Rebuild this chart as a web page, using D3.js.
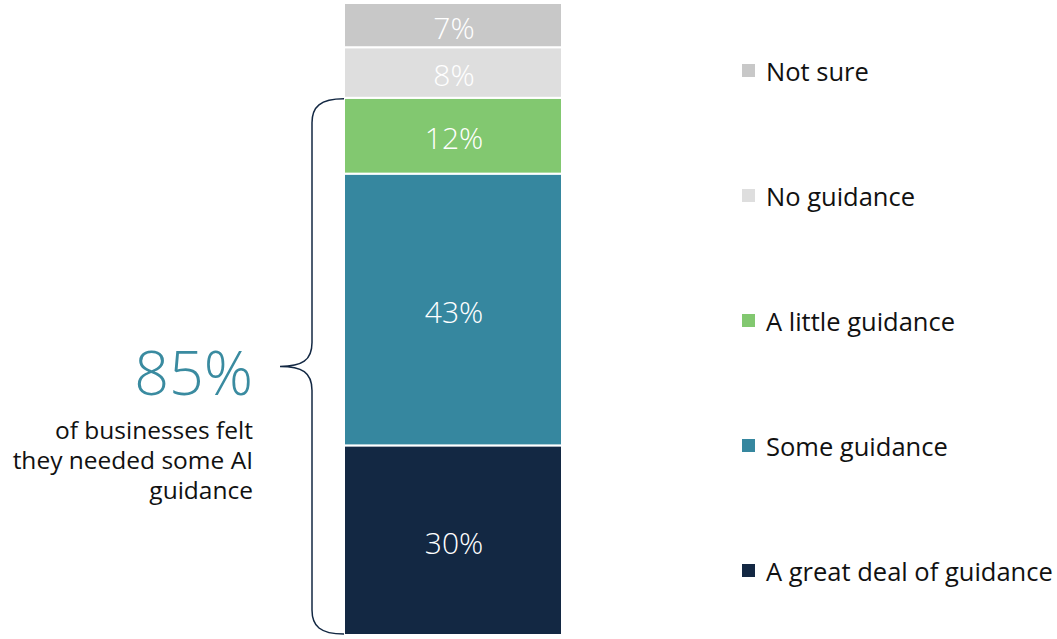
<!DOCTYPE html>
<html><head><meta charset="utf-8">
<script src="https://cdn.jsdelivr.net/npm/d3@7"></script>
<style>body{margin:0;background:#fff;font-family:"Open Sans",sans-serif;}</style>
</head><body>
<svg id="chart" width="1057" height="639"></svg>
<script>
(function(){
const categories = ["A great deal of guidance","Some guidance","A little guidance","No guidance","Not sure"];
const values = [30, 43, 12, 8, 7];
const colors = ["#132843","#36879F","#82C870","#DEDEDE","#C8C8C8"];
const headline = "85%";
const caption = ["of businesses felt","they needed some AI","guidance"];

const svg = d3.select("#chart");
const y = d3.scaleLinear().domain([0,100]).range([635,3]);
const x0 = 344, x1 = 562;

let cum = 0;
const segs = values.map((v,i)=>{const s={cat:categories[i],v,lo:cum,hi:cum+v,c:colors[i]};cum+=v;return s;});

svg.selectAll("rect.seg").data(segs).enter().append("rect")
  .attr("x",x0).attr("width",x1-x0)
  .attr("y",d=>y(d.hi)).attr("height",d=>y(d.lo)-y(d.hi))
  .attr("fill",d=>d.c).attr("stroke","#fff").attr("stroke-width",2);

svg.selectAll("text.lbl").data(segs).enter().append("text")
  .attr("x",(x0+x1)/2+1).attr("y",d=>(y(d.lo)+y(d.hi))/2+3)
  .attr("dy","0.35em").attr("text-anchor","middle")
  .attr("fill","#fff").attr("font-size",30).attr("font-weight",300)
  .text(d=>d.v+"%");

// legend
const ly = d3.scalePoint().domain(categories).range([571,71]);
const lg = svg.selectAll("g.leg").data(categories).enter().append("g")
  .attr("transform",d=>`translate(742,${ly(d)})`);
lg.append("rect").attr("x",0).attr("y",-7).attr("width",13).attr("height",13)
  .attr("fill",(d,i)=>colors[i]);
lg.append("text").attr("x",24).attr("y",1).attr("dy","0.35em")
  .attr("font-size",25.5).attr("fill","#111").text(d=>d);

// bracket from 0 to 85
const bTop = y(85)+1, bBot = y(0)-1, mid = (bTop+bBot)/2;
const bx = 312, tip = 280, r = 24;
const p = d3.path();
p.moveTo(x0, bTop);
p.bezierCurveTo(bx+8, bTop, bx, bTop+8, bx, bTop+r);
p.lineTo(bx, mid-r);
p.bezierCurveTo(bx, mid-6, bx-10, mid, tip, mid);
p.bezierCurveTo(bx-10, mid, bx, mid+6, bx, mid+r);
p.lineTo(bx, bBot-r);
p.bezierCurveTo(bx, bBot-8, bx+8, bBot, x0, bBot);
svg.append("path").attr("d",p.toString()).attr("fill","none")
  .attr("stroke","#132843").attr("stroke-width",1.5);

svg.append("text").attr("x",253).attr("y",395).attr("text-anchor","end")
  .attr("font-size",61).attr("font-weight",300).attr("fill","#3A8BA0").text(headline);
svg.selectAll("text.cap").data(caption).enter().append("text")
  .attr("x",253).attr("y",(d,i)=>439+i*30).attr("text-anchor","end")
  .attr("font-size",24.5).attr("fill","#111").text(d=>d);
})();
</script>
</body></html>
